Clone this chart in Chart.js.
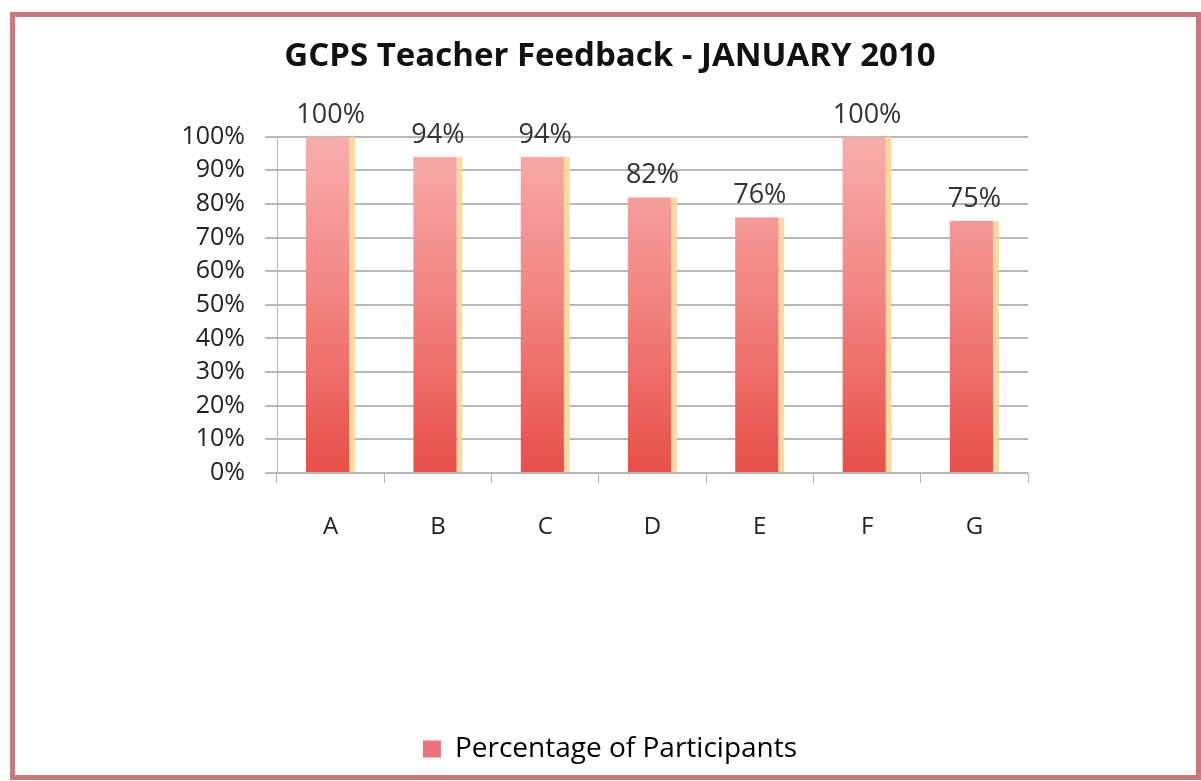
<!DOCTYPE html>
<html>
<head>
<meta charset="utf-8">
<script src="https://cdn.jsdelivr.net/npm/chart.js@4"></script>
<style>
    html, body { margin: 0; padding: 0; background: #ffffff; }
    #frame {
        position: absolute;
        left: 10px; top: 12px;
        width: 1181px; height: 758px;
        border: 5px solid #c9777a;
        background: #ffffff;
    }
    #feedbackChart { display: block; }
</style>
</head>
<body>
<div id="frame"><canvas id="feedbackChart" width="1181" height="758"></canvas></div>
<script>
// Chart data
const categories = ['A', 'B', 'C', 'D', 'E', 'F', 'G'];
const participation = [100, 94, 94, 82, 76, 100, 75];
const yTicks = [0, 10, 20, 30, 40, 50, 60, 70, 80, 90, 100];
const seriesName = 'Percentage of Participants';
const chartTitle = 'GCPS Teacher Feedback - JANUARY 2010';

const fontFamily = "'Open Sans', 'Liberation Sans', sans-serif";

// vertical pink -> red fill like the Excel bars
function barFill(context) {
    const chart = context.chart;
    const area = chart.chartArea;
    if (!area) return '#f07070';
    const g = chart.ctx.createLinearGradient(0, area.top, 0, area.bottom);
    g.addColorStop(0, '#f8aeac');
    g.addColorStop(0.5, '#f2827f');
    g.addColorStop(1, '#e84f49');
    return g;
}

// value labels above each bar
const valueLabels = {
    id: 'valueLabels',
    afterDatasetsDraw(chart) {
        const ctx = chart.ctx;
        const meta = chart.getDatasetMeta(0);
        ctx.save();
        ctx.font = '27px ' + fontFamily;
        ctx.fillStyle = '#333333';
        ctx.textAlign = 'center';
        ctx.textBaseline = 'alphabetic';
        meta.data.forEach(function(bar, i) {
            ctx.fillText(participation[i] + '%', bar.x, bar.y - 14);
        });
        ctx.restore();
    }
};

document.addEventListener('DOMContentLoaded', function() {
    const ctx = document.getElementById('feedbackChart').getContext('2d');
    new Chart(ctx, {
        type: 'bar',
        data: {
            labels: categories,
            datasets: [{
                label: seriesName,
                data: participation,
                backgroundColor: barFill,
                borderColor: 'rgba(250, 214, 150, 0.9)',
                borderWidth: { top: 0, left: 0, bottom: 0, right: 6 },
                borderSkipped: false,
                categoryPercentage: 1,
                barPercentage: 0.46
            }]
        },
        options: {
            responsive: false,
            animation: false,
            layout: { padding: { left: 150, right: 141, top: 0, bottom: 2 } },
            scales: {
                x: {
                    grid: {
                        display: true,
                        drawOnChartArea: false,
                        drawTicks: true,
                        tickLength: 10,
                        color: '#b5b5b5'
                    },
                    border: { color: '#b5b5b5' },
                    ticks: {
                        padding: 30,
                        color: '#222222',
                        font: { family: fontFamily, size: 24 }
                    },
                    afterFit: function(scale) { scale.height = 252; }
                },
                y: {
                    min: 0,
                    max: 100,
                    afterBuildTicks: function(scale) {
                        scale.ticks = yTicks.map(function(v) { return { value: v }; });
                    },
                    grid: {
                        color: '#b8b8b8',
                        lineWidth: 2,
                        tickLength: 12
                    },
                    border: { color: '#b5b5b5', width: 1 },
                    ticks: {
                        autoSkip: false,
                        padding: 20,
                        color: '#222222',
                        font: { family: fontFamily, size: 25 },
                        callback: function(value) { return value + '%'; }
                    },
                    afterFit: function(scale) { scale.width = 112; }
                },
                // empty spacer on the right so title and legend sit centred like the original
                spacer: {
                    type: 'linear',
                    position: 'right',
                    grid: { display: false },
                    border: { display: false },
                    ticks: { display: false },
                    afterFit: function(scale) { scale.width = 27; }
                }
            },
            plugins: {
                title: {
                    display: true,
                    text: chartTitle,
                    color: '#111111',
                    font: { family: fontFamily, size: 33, weight: 'bold' },
                    padding: { top: 20, bottom: 60 }
                },
                legend: {
                    position: 'bottom',
                    labels: {
                        boxWidth: 18,
                        boxHeight: 17,
                        padding: 10,
                        color: '#222222',
                        font: { family: fontFamily, size: 28 },
                        generateLabels: function() {
                            return [{
                                text: seriesName,
                                fillStyle: '#ee7278',
                                strokeStyle: '#ee7278',
                                lineWidth: 0,
                                datasetIndex: 0
                            }];
                        }
                    }
                },
                tooltip: { enabled: false }
            }
        },
        plugins: [valueLabels]
    });
});
</script>
</body>
</html>
